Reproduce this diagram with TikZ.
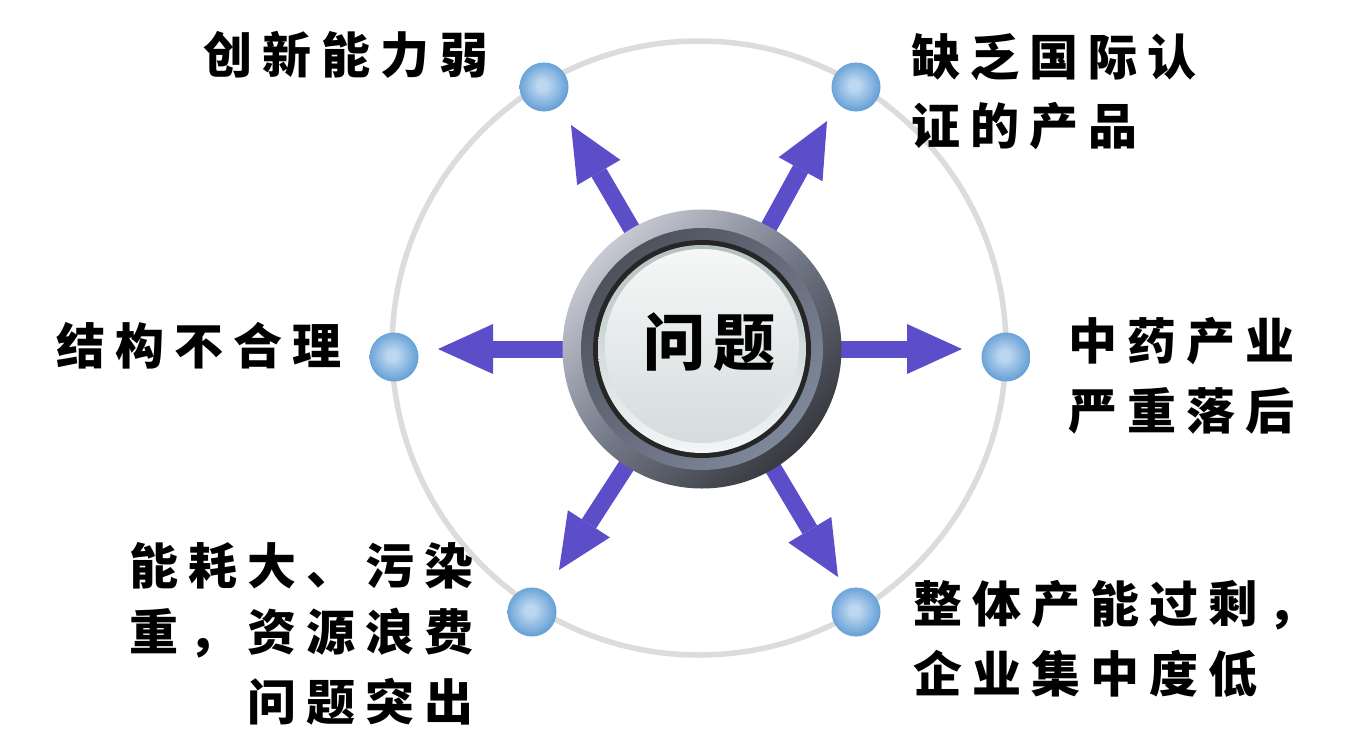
\documentclass[tikz,border=0pt]{standalone}
\usepackage{fontspec}
\newfontfamily\cjk{Noto Sans CJK SC}
\usetikzlibrary{arrows.meta}
\definecolor{arrowc}{HTML}{5C4DC8}
\definecolor{ringc}{HTML}{DCDCDC}
\definecolor{dotin}{HTML}{BDD7EF}
\definecolor{dotout}{HTML}{67A1D7}
\definecolor{ra}{HTML}{C6C9D2}
\definecolor{rb}{HTML}{737887}
\definecolor{rc}{HTML}{37393F}
\definecolor{sa}{HTML}{4E525D}
\definecolor{sb}{HTML}{7F879B}
\definecolor{bk}{HTML}{262626}
\definecolor{fa}{HTML}{B4C0C0}
\definecolor{fb}{HTML}{F2F6F6}
\definecolor{ga}{HTML}{F6F7F7}
\definecolor{gb}{HTML}{D4DCDC}
\pgfdeclareradialshading{dotsh}{\pgfpoint{-2bp}{2bp}}{color(0bp)=(dotin); color(5bp)=(dotin); color(25bp)=(dotout); color(50bp)=(dotout)}
\newdimen\lskern \lskern=10pt
\def\ls#1{\lsA#1\relax}
\def\lsA#1#2{#1\ifx\relax#2\else\kern\lskern\expandafter\lsA\expandafter#2\fi}
\begin{document}
\begin{tikzpicture}[x=1pt,y=-1pt,
  lbl/.style={inner sep=0pt, font={\cjk\bfseries\fontsize{49pt}{49pt}\selectfont}},
  dot/.style={circle, inner sep=0pt, minimum size=49pt, shading=dotsh},
  arr/.style={draw=arrowc, line width=17pt, -{Triangle[length=55pt,width=50pt,line width=0pt]}},
  disc/.style={circle, inner sep=0pt, minimum size=#1}]
\useasboundingbox (0,0) rectangle (1367,736);
\fill[white] (0,0) rectangle (1367,736);
% big circle
\coordinate (o) at (699,348);
\draw[ringc, line width=5.5pt] (o) circle[radius=307pt];
% dots
\node[dot, shade] (d1) at (544,87) {};
\node[dot, shade] (d2) at (856,87) {};
\node[dot, shade] (d3) at (394,357) {};
\node[dot, shade] (d4) at (1006,357) {};
\node[dot, shade] (d5) at (532,612) {};
\node[dot, shade] (d6) at (856,612) {};
% arrows
\coordinate (c) at (702,349);
\coordinate (t1) at (571,125);
\coordinate (t2) at (827,121);
\coordinate (t3) at (438,349);
\coordinate (t4) at (962,349);
\coordinate (t5) at (559,570);
\coordinate (t6) at (838,577);
\foreach \t in {t1,t2,t3,t4,t5,t6} \draw[arr] (c) -- (\t);
% button
\node[disc=279pt, top color=ra, bottom color=rc, middle color=rb, shading angle=45] (r1) at (c) {};
\node[disc=242pt, top color=sa, bottom color=sb, shading angle=45] (r2) at (c) {};
\node[disc=218pt, fill=bk] (r3) at (c) {};
\node[disc=208pt, top color=fa, bottom color=fb] (r4) at (c) {};
\node[disc=194pt, top color=ga, bottom color=gb] (r5) at ([yshift=3pt]c) {};
\node[inner sep=0pt, font={\cjk\bfseries\fontsize{62pt}{62pt}\selectfont}] (q) at (709,342) {问\kern8pt 题};
% labels
\node[lbl, anchor=west] (l1) at (203,55) {\ls{创新能力弱}};
\node[lbl, anchor=west] (l2a) at (911,57) {\ls{缺乏国际认}};
\node[lbl, anchor=west] (l2b) at (911,126) {\ls{证的产品}};
\node[lbl, anchor=west] (l3a) at (1068,341) {\ls{中药产业}};
\node[lbl, anchor=west] (l3b) at (1068,411) {\ls{严重落后}};
\node[lbl, anchor=west] (l4) at (56,346) {\ls{结构不合理}};
\node[lbl, anchor=east] (l5a) at (474,566) {\ls{能耗大、污染}};
\node[lbl, anchor=east] (l5b) at (474,633) {\ls{重，资源浪费}};
\node[lbl, anchor=east] (l5c) at (474,702) {\ls{问题突出}};
\node[lbl, anchor=west] (l6a) at (913,605) {\ls{整体产能过剩，}};
\node[lbl, anchor=west] (l6b) at (913,674) {\ls{企业集中度低}};
\end{tikzpicture}
\end{document}
